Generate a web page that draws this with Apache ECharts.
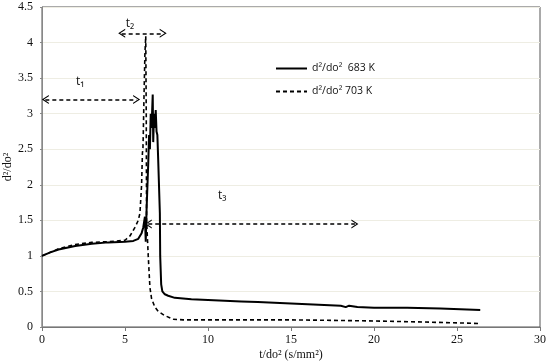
<!DOCTYPE html>
<html>
<head>
<meta charset="utf-8">
<script src="https://cdn.jsdelivr.net/npm/echarts@6/dist/echarts.min.js"></script>
<style>
  html, body { margin: 0; padding: 0; background: #fff; }
  #chart { width: 549px; height: 364px; }
</style>
</head>
<body>
<div id="chart"></div>
<script>
  /* data */
  var t683 = [0, 0.5, 1, 2, 3, 4, 5, 5.5, 5.8, 6.0, 6.1, 6.2, 6.25, 6.3, 6.4, 6.45, 6.5, 6.55, 6.6, 6.67, 6.7, 6.75, 6.8, 6.85, 6.9, 6.95, 7.0, 7.05, 7.1, 7.12, 7.18, 7.25, 7.4, 7.6, 8, 9, 10, 11, 12, 13, 14, 15, 16, 17, 18, 18.3, 18.5, 19, 20, 22, 24, 26.4];
  var d683 = [1.0, 1.05, 1.09, 1.14, 1.17, 1.19, 1.2, 1.21, 1.24, 1.32, 1.4, 1.55, 1.2, 1.65, 2.3, 2.7, 2.5, 3.0, 2.8, 3.27, 2.6, 3.0, 2.8, 3.05, 2.75, 2.7, 2.35, 2.35, 1.6, 1.0, 0.6, 0.5, 0.46, 0.44, 0.41, 0.39, 0.38, 0.37, 0.36, 0.35, 0.34, 0.33, 0.32, 0.31, 0.3, 0.28, 0.3, 0.28, 0.27, 0.27, 0.26, 0.24];

  var t703 = [0, 1, 2, 3, 4, 5, 5.3, 5.6, 5.8, 5.9, 6.0, 6.05, 6.08, 6.1, 6.15, 6.2, 6.25, 6.28, 6.3, 6.4, 6.5, 6.6, 6.8, 7.0, 7.4, 7.9, 8.5, 10, 15, 17, 20, 23, 26.3];
  var d703 = [1.0, 1.1, 1.16, 1.19, 1.2, 1.22, 1.28, 1.4, 1.5, 1.6, 2.0, 2.45, 2.5, 2.7, 3.3, 3.85, 4.09, 3.0, 1.5, 1.0, 0.56, 0.4, 0.28, 0.22, 0.16, 0.11, 0.1, 0.1, 0.1, 0.095, 0.085, 0.07, 0.05];

  var seriesNames = ['d²/do²  683 K', 'd²/do² 703 K'];

  /* annotation arrows: [x1, x2, y] and label positions */
  var arrows = [[0.2, 5.7, 3.2], [4.8, 7.3, 4.13], [6.4, 18.85, 1.45]];
  var arrowLabels = ['t₁', 't₂', 't₃'];
  var arrowLabelPos = [[2.3, 3.45], [5.3, 4.27], [10.85, 1.85]];

  function pairs(xs, ys) {
    var out = [];
    for (var i = 0; i < xs.length; i++) out.push([xs[i], ys[i]]);
    return out;
  }

  var serif = 'Liberation Serif';
  var sans = 'Open Sans';
  var chevron = 'path://M0,10 L5,0 L10,10 L8.6,10 L5,2.8 L1.4,10 Z';

  var arrowLines = arrows.map(function (a) {
    return [{ coord: [a[0], a[2]] }, { coord: [a[1], a[2]] }];
  });
  var labelPoints = arrowLabels.map(function (s, i) {
    return { coord: arrowLabelPos[i], value: s };
  });

  var chart = echarts.init(document.getElementById('chart'));
  chart.setOption({
    animation: false,
    textStyle: { fontFamily: serif },
    grid: {
      left: 42, right: 9, top: 7, bottom: 37,
      outerBoundsMode: 'none',
      show: true, borderColor: '#555', borderWidth: 1
    },
    legend: {
      orient: 'vertical',
      left: 270, top: 58,
      itemWidth: 31, itemHeight: 10, itemGap: 12,
      itemStyle: { opacity: 0, color: 'rgba(0,0,0,0)', borderWidth: 0 },
      textStyle: { fontFamily: sans, fontSize: 10.5, color: '#111' },
      data: seriesNames
    },
    xAxis: {
      type: 'value', min: 0, max: 30, interval: 5,
      name: 't/do² (s/mm²)', nameLocation: 'middle', nameGap: 22,
      nameMoveOverlap: false,
      nameTextStyle: { fontFamily: serif, fontSize: 12, color: '#111' },
      axisLine: { lineStyle: { color: '#777' } },
      axisTick: { show: true, length: 4, lineStyle: { color: '#777' } },
      axisLabel: { fontFamily: serif, fontSize: 12, color: '#111', margin: 7 },
      splitLine: { show: false }
    },
    yAxis: {
      type: 'value', min: 0, max: 4.5, interval: 0.5,
      name: 'd²/do²', nameLocation: 'middle', nameGap: 28,
      nameMoveOverlap: false,
      nameTextStyle: { fontFamily: serif, fontSize: 12, color: '#111' },
      axisLine: { show: true, lineStyle: { color: '#888' } },
      axisTick: { show: true, length: 2, lineStyle: { color: '#888' } },
      axisLabel: { fontFamily: serif, fontSize: 12, color: '#111', margin: 9 },
      splitLine: { lineStyle: { color: '#eeede3', width: 1 } }
    },
    series: [{
      name: seriesNames[0],
      type: 'line',
      symbol: 'none',
      data: pairs(t683, d683),
      lineStyle: { color: '#000', width: 2 },
      itemStyle: { color: '#000' }
    }, {
      name: seriesNames[1],
      type: 'line',
      symbol: 'none',
      data: pairs(t703, d703),
      lineStyle: { color: '#000', width: 1.6, type: [4, 3] },
      itemStyle: { color: '#000' },
      markLine: {
        silent: true,
        symbol: [chevron, chevron],
        symbolSize: [9, 7],
        label: { show: false },
        lineStyle: { color: '#000', width: 1.6, type: [4, 3] },
        data: arrowLines
      },
      markPoint: {
        silent: true,
        symbol: 'circle',
        symbolSize: 0,
        label: {
          show: true,
          formatter: '{c}',
          fontFamily: sans,
          fontSize: 12,
          color: '#111'
        },
        data: labelPoints
      }
    }]
  });
</script>
</body>
</html>
